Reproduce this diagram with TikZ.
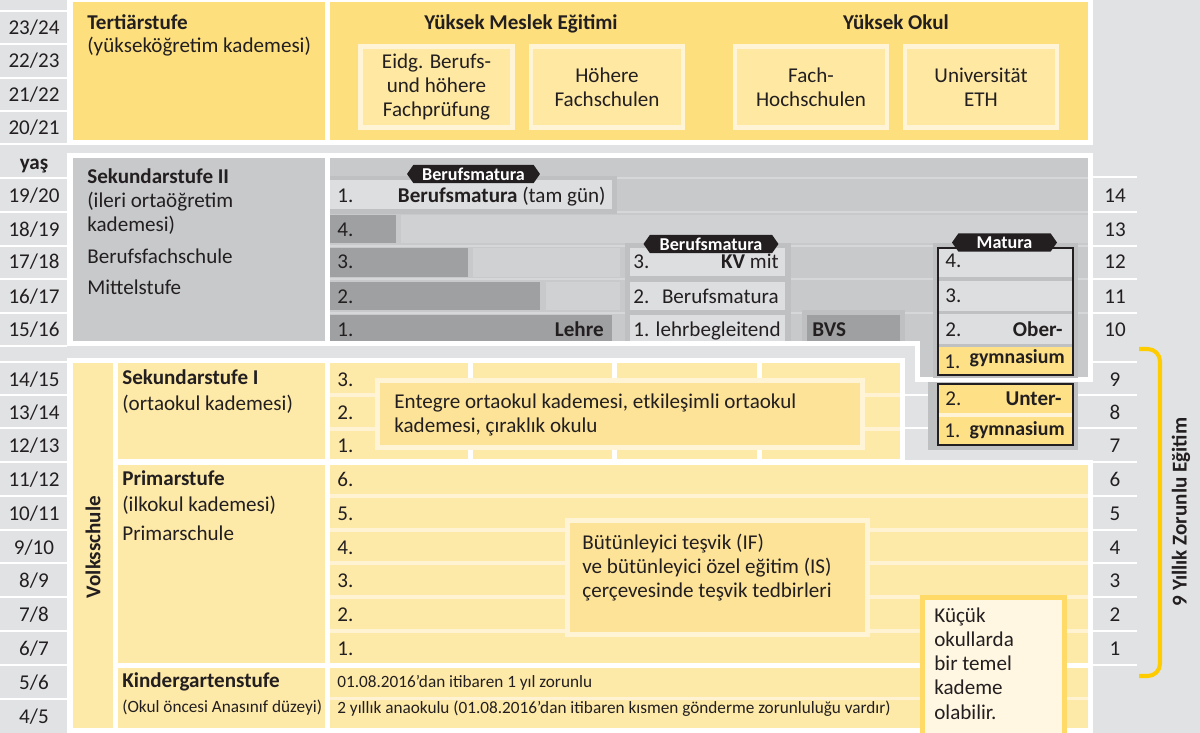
\documentclass[tikz,border=0pt]{standalone}
\usepackage{fontspec}
\setmainfont{Carlito}
\usepackage[HTML]{xcolor}
\usepackage{tikz}
\usetikzlibrary{positioning, shapes.symbols}

\definecolor{bggray}{HTML}{E1E2E4}
\definecolor{ink}{HTML}{231F20}
\definecolor{tertyel}{HTML}{FDDF7E}
\definecolor{innyel}{HTML}{FEE8A2}
\definecolor{innpale}{HTML}{FFF4D6}
\definecolor{volkyel}{HTML}{FEEAA8}
\definecolor{volkpale}{HTML}{FFF3D4}
\definecolor{boxyel}{HTML}{FDE398}
\definecolor{gymyel}{HTML}{FEE187}
\definecolor{kucukfill}{HTML}{FFF7E2}
\definecolor{kucukdraw}{HTML}{FFDA66}
\definecolor{sekgray}{HTML}{C8C9CB}
\definecolor{bandgray}{HTML}{D0D1D3}
\definecolor{sepgray}{HTML}{D6D7D9}
\definecolor{lightrow}{HTML}{DDDEE0}
\definecolor{shadegray}{HTML}{BFC0C2}
\definecolor{bargray}{HTML}{9FA0A2}
\definecolor{bracegold}{HTML}{FFCC00}

\tikzset{
  txt/.style={anchor=base west, inner sep=0pt, text=ink, font=\fontsize{12}{13.7}\selectfont},
  txtb/.style={txt, font=\fontsize{12}{13.7}\selectfont\bfseries},
  txtr/.style={txtb, anchor=base east},
  gymtxt/.style={txtr, font=\fontsize{11.3}{13}\selectfont\bfseries},
  txts/.style={txt, font=\fontsize{9.8}{11}\selectfont},
  age/.style={txt, anchor=base},
  strip/.style={white, line width=1.7pt},
  tbox/.style={fill=innyel, draw=innpale, line width=2.8pt, align=center, text=ink, inner sep=0pt,
    font=\fontsize{12}{13.4}\selectfont, minimum width=3.04cm, minimum height=1.62cm},
  hlbox/.style={fill=boxyel, draw=innpale, line width=2.8pt},
  tagbox/.style={signal, signal to=west and east, signal pointer angle=110, fill=ink, text=white,
    font=\fontsize{10.3}{12}\selectfont\bfseries, inner sep=0pt, minimum height=0.37cm},
  gymbox/.style={draw=ink, line width=1.2pt},
  brace/.style={bracegold, line width=2.3pt, rounded corners=7pt},
}

\begin{document}
\begin{tikzpicture}[x=0.02cm, y=-0.02cm]
\useasboundingbox (0,0) rectangle (1200,733);
\fill[bggray] (0,0) rectangle (1200,733);

% age column
\foreach \y in {11,44,78,111,144,178,212,246,279,313,346,362,395,428,462,496,530,563,597,631,665,699}
  \draw[strip] (0,\y) -- (67,\y);
\foreach \y/\a/\b in {35/23/24, 68/22/23, 102/21/22, 135/20/21, 203/19/20, 236/18/19, 269/17/18,
    303/16/17, 337/15/16, 386/14/15, 419/13/14, 452/12/13, 486/11/12, 520/10/11, 554/9/10,
    587/8/9, 621/7/8, 655/6/7, 689/5/6, 723/4/5}
  \node[age] (age\a) at (34,\y) {\a/\b};
\node[age, font=\fontsize{12}{13.7}\selectfont\bfseries] (yas) at (34,170) {yaş};

% school years
\foreach \y in {177,212,246,279,313,362,462,496,530,563,597,631,665}
  \draw[strip] (1093,\y) -- (1137,\y);
\foreach \y in {395,428}
  \draw[strip] (905,\y) -- (1137,\y);
\foreach \y/\n in {203/14, 236/13, 269/12, 303/11, 337/10, 386/9, 419/8, 452/7, 486/6, 520/5,
    554/4, 587/3, 621/2, 655/1}
  \node[age] (yr\n) at (1115,\y) {\n};

% Tertiärstufe
\fill[white] (67,-5) rectangle (1093,145);
\fill[tertyel] (73,2) rectangle (325,140);
\fill[tertyel] (330,2) rectangle (1088,140);
\node[txtb] (tert) at (87,30) {Tertiärstufe};
\node[txt] (tertsub) at (87,53) {(yükseköğretim kademesi)};
\node[txtb, anchor=base] (yme) at (521,30) {Yüksek Meslek Eğitimi};
\node[txtb, anchor=base] (yo) at (896,30) {Yüksek Okul};
\node[tbox] (eidg) at (436.5,87) {Eidg. Berufs-\\und höhere\\Fachprüfung};
\node[tbox] (hfs) at (607,87) {Höhere\\Fachschulen};
\node[tbox] (fh) at (811,87) {Fach-\\Hochschulen};
\node[tbox] (uni) at (981,87) {Universität\\ETH};

% Sekundarstufe II
\fill[white] (67,153) rectangle (1093,346);
\fill[white] (915,340) rectangle (1093,382);
\fill[sekgray] (73,158) rectangle (325,341);
\fill[sekgray] (330,158) rectangle (1088,341);
\fill[sekgray] (920,340) rectangle (1088,377);
\node[txtb] (sek2) at (87,184) {Sekundarstufe II};
\node[txt] (sek2a) at (87,208) {(ileri ortaöğretim};
\node[txt] (sek2b) at (87,232) {kademesi)};
\node[txt] (bfs) at (87,263) {Berufsfachschule};
\node[txt] (mst) at (87,295) {Mittelstufe};
\foreach \y in {178,212,246,279,313}
  \draw[sepgray, line width=1.7pt] (330,\y) -- (1088,\y);
\fill[bandgray] (401,215) rectangle (1088,243);
\fill[bandgray] (473,248) rectangle (620,277);
\fill[bandgray] (546,282) rectangle (620,310);
\foreach \t/\b/\r/\n/\y in {215/243/396/4/236, 248/277/468/3/269, 282/310/540/2/303, 315/341/612/1/337} {
  \fill[bargray] (330,\t) rectangle (\r,\b);
  \node[txt] (lehre\n) at (337,\y) {\n.};
}
\node[txtr] (lehre) at (604,337) {Lehre};
% Berufsmatura full time
\fill[shadegray] (330,176) rectangle (617,214);
\fill[lightrow] (330,180) rectangle (612,209);
\node[txt] (bmvz1) at (337,203) {1.};
\node[txt, anchor=base east] (bmvz) at (606,203) {\textbf{Berufsmatura} (tam gün)};
\node[tagbox, minimum width=2.66cm] (bmtag1) at (473.5,174) {Berufsmatura};
% KV
\fill[shadegray] (625,243) rectangle (791,341);
\fill[lightrow] (630,248) rectangle (785,276);
\fill[lightrow] (630,282) rectangle (785,310);
\fill[lightrow] (630,315) rectangle (785,341);
\node[txt] (kv3) at (633,269) {3.};
\node[txt, anchor=base east] (kv) at (779,269) {\textbf{KV} mit};
\node[txt] (kv2) at (633,303) {2.\hspace{0.6em}Berufsmatura};
\node[txt] (kv1) at (633,337) {1. lehrbegleitend};
\node[tagbox, minimum width=2.7cm] (bmtag2) at (711,244) {Berufsmatura};
% BVS
\fill[shadegray] (802,310) rectangle (905,341);
\fill[bargray] (807,315) rectangle (900,341);
\node[txtb] (bvs) at (812,336) {BVS};
% Obergymnasium
\fill[shadegray] (933,243) rectangle (1078,378);
\fill[lightrow] (938,248) rectangle (1073,277);
\fill[lightrow] (938,281) rectangle (1073,311);
\fill[lightrow] (938,314) rectangle (1073,344);
\fill[gymyel] (938,347) rectangle (1073,375);
\draw[gymbox] (938,248) rectangle (1073,375);
\node[txt] (og4) at (945,268) {4.};
\node[txt] (og3) at (945,302) {3.};
\node[txt] (og2) at (945,336) {2.};
\node[txtr] (ober) at (1063,336) {Ober-};
\node[txt] (og1) at (944,368) {1.};
\node[gymtxt] (ogym) at (1065,363) {gymnasium};
\node[tagbox, minimum width=2.1cm] (maturatag) at (1004.5,242.5) {Matura};

% Untergymnasium
\fill[shadegray] (928,382) rectangle (1078,450);
\fill[innpale] (938,384) rectangle (1073,445);
\fill[gymyel] (938,384) rectangle (1073,413);
\fill[gymyel] (938,417) rectangle (1073,445);
\draw[gymbox] (938,384) rectangle (1073,445);
\node[txt] (ug2) at (945,405) {2.};
\node[txtr] (unter) at (1062,405) {Unter-};
\node[txt] (ug1) at (944,437) {1.};
\node[gymtxt] (ugym) at (1065,435) {gymnasium};

% Volksschule
\fill[white] (67,358) rectangle (905,740);
\fill[white] (905,460) rectangle (1093,740);
\fill[volkyel] (73,363) rectangle (113,728);
\node[txtb, anchor=center, rotate=90] (volk) at (93,547) {Volksschule};
\fill[volkyel] (118,363) rectangle (325,459);
\fill[volkyel] (118,465) rectangle (325,663);
\fill[volkyel] (118,668) rectangle (325,728);
\node[txtb] (sek1) at (122,384) {Sekundarstufe I};
\node[txt] (sek1a) at (122,410) {(ortaokul kademesi)};
\node[txtb] (prim) at (122,485) {Primarstufe};
\node[txt] (prima) at (122,511) {(ilkokul kademesi)};
\node[txt] (primb) at (122,540) {Primarschule};
\node[txtb] (kg) at (122,687) {Kindergartenstufe};
\node[txts] (kga) at (122,712) {(Okul öncesi Anasınıf düzeyi)};

% Sekundarstufe I rows
\fill[volkpale] (330,363) rectangle (900,459);
\foreach \t/\b/\n/\y in {363/393/3/386, 397/427/2/419, 431/459/1/452} {
  \fill[volkyel] (330,\t) rectangle (900,\b);
  \node[txt] (sekI\n) at (337,\y) {\n.};
}
\foreach \x in {468,612,757}
  \fill[white] (\x,363) rectangle (\x+5,459);
\filldraw[hlbox] (377.5,380.5) rectangle (862.5,447.5);
\node[txt] (ent1) at (394,408) {Entegre ortaokul kademesi, etkileşimli ortaokul};
\node[txt] (ent2) at (394,432) {kademesi, çıraklık okulu};

% Primarstufe rows
\fill[volkpale] (330,465) rectangle (1088,663);
\foreach \t/\b/\n/\y in {465/494/6/486, 498/528/5/520, 532/561/4/554, 565/595/3/587, 599/629/2/621, 633/663/1/655} {
  \fill[volkyel] (330,\t) rectangle (1088,\b);
  \node[txt] (pr\n) at (337,\y) {\n.};
}
\filldraw[hlbox] (567.5,520.5) rectangle (867.5,634.5);
\node[txt] (if1) at (582,549) {Bütünleyici teşvik (IF)};
\node[txt] (if2) at (582,573) {ve bütünleyici özel eğitim (IS)};
\node[txt] (if3) at (582,597) {çerçevesinde teşvik tedbirleri};

% Kindergartenstufe rows
\fill[volkpale] (330,668) rectangle (1088,728);
\fill[volkyel] (330,668) rectangle (1088,697);
\fill[volkyel] (330,700) rectangle (1088,728);
\node[txts] (kg1) at (337,687) {01.08.2016’dan itibaren 1 yıl zorunlu};
\node[txts] (kg2) at (337,713) {2 yıllık anaokulu (01.08.2016’dan itibaren kısmen gönderme zorunluluğu vardır)};

% small schools
\filldraw[fill=kucukfill, draw=kucukdraw, line width=2.8pt] (922.5,597.5) rectangle (1064.5,745);
\node[txt, align=left] (kucuk) at (934,719) {Küçük\\okullarda\\bir temel\\kademe\\olabilir.};

% compulsory schooling
\draw[brace] (1139,349) -- (1160,349) -- (1160,676) -- (1139,676);
\node[txtb, anchor=center, rotate=90] (zorunlu) at (1181,512) {9 Yıllık Zorunlu Eğitim};
\end{tikzpicture}
\end{document}
